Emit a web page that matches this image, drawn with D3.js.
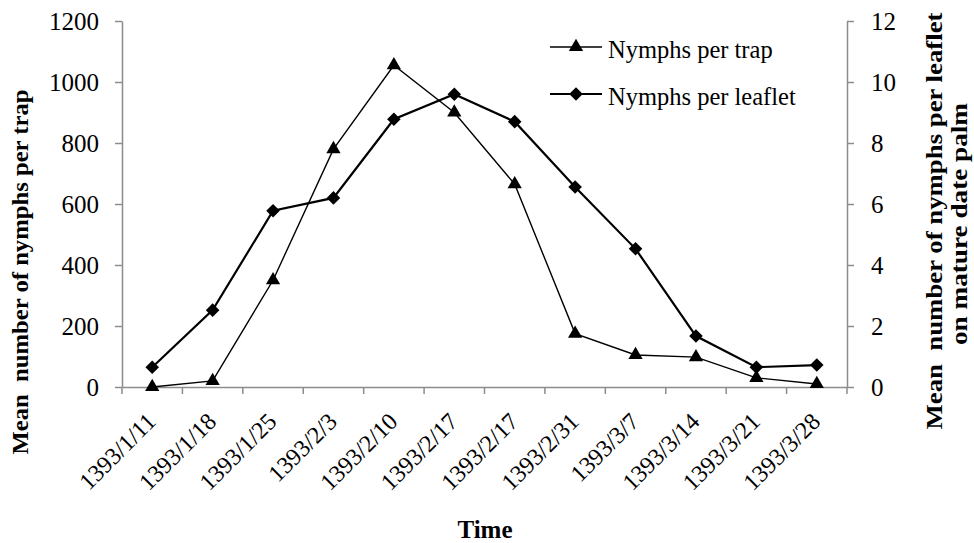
<!DOCTYPE html>
<html>
<head>
<meta charset="utf-8">
<script src="https://cdn.jsdelivr.net/npm/d3@7"></script>
<style>
body { margin: 0; background: #fff; }
text { font-family: "Liberation Serif", "Times New Roman", serif; white-space: pre; }
</style>
</head>
<body>
<script>
var width = 974
var height = 543
var plotLeft = 122, plotRight = 847, plotTop = 21, plotBottom = 387

var dates = ["1393/1/11", "1393/1/18", "1393/1/25", "1393/2/3", "1393/2/10", "1393/2/17",
    "1393/2/17", "1393/2/31", "1393/3/7", "1393/3/14", "1393/3/21", "1393/3/28"]
var trap = [0, 20, 350, 780, 1055, 900, 665, 175, 105, 98, 30, 10]
var leaflet = [0.65, 2.52, 5.78, 6.2, 8.78, 9.6, 8.7, 6.56, 4.53, 1.67, 0.65, 0.72]
var trapTicks = [0, 200, 400, 600, 800, 1000, 1200]
var leafletTicks = [0, 2, 4, 6, 8, 10, 12]
var seriesNames = ["Nymphs per trap", "Nymphs per leaflet"]

var svg = d3.select("body").append("svg")
    .attr("width", width)
    .attr("height", height)

var x = d3.scaleBand()
    .domain(d3.range(dates.length))
    .range([plotLeft, plotRight])
    .padding(0)

var y1 = d3.scaleLinear().domain([0, 1200]).range([plotBottom, plotTop])
var y2 = d3.scaleLinear().domain([0, 12]).range([plotBottom, plotTop])

function cx(i) { return x(i) + x.bandwidth() / 2 }

// axes
var axisColor = "#8c8c8c"

var gx = svg.append("g")
    .attr("transform", "translate(0," + plotBottom + ")")
    .call(d3.axisBottom(x).tickValues([]).tickSizeOuter(0))
gx.selectAll("path").attr("stroke", axisColor).attr("stroke-width", 1.5)
// ticks sit on the band edges, not the centres
gx.selectAll(".edge")
    .data(d3.range(dates.length + 1))
    .enter().append("line")
    .attr("x1", function(d) { return plotLeft + d * x.bandwidth() })
    .attr("x2", function(d) { return plotLeft + d * x.bandwidth() })
    .attr("y1", 0).attr("y2", 7)
    .attr("stroke", axisColor).attr("stroke-width", 1.5)

svg.append("g").selectAll("text")
    .data(dates)
    .enter().append("text")
    .attr("transform", function(d, i) { return "translate(" + (cx(i) + 5) + ",423) rotate(-45)" })
    .attr("text-anchor", "end")
    .attr("font-size", "24px")
    .attr("fill", "#000")
    .text(function(d) { return d })

var gl = svg.append("g")
    .attr("transform", "translate(" + plotLeft + ",0)")
    .call(d3.axisLeft(y1).tickValues(trapTicks).tickFormat(d3.format("d")).tickSize(7).tickSizeOuter(0).tickPadding(16))
gl.selectAll("path, line").attr("stroke", axisColor).attr("stroke-width", 1.5)
gl.selectAll("text").attr("font-size", "25px").attr("fill", "#000")

var gr = svg.append("g")
    .attr("transform", "translate(" + plotRight + ",0)")
    .call(d3.axisRight(y2).tickValues(leafletTicks).tickFormat(d3.format("d")).tickSize(7).tickSizeOuter(0).tickPadding(17))
gr.selectAll("path, line").attr("stroke", axisColor).attr("stroke-width", 1.5)
gr.selectAll("text").attr("font-size", "25px").attr("fill", "#000")

// axis titles
svg.append("text")
    .attr("transform", "translate(28,272) rotate(-90)")
    .attr("text-anchor", "middle")
    .attr("font-size", "23px")
    .attr("font-weight", "bold")
    .attr("textLength", 365)
    .attr("lengthAdjust", "spacingAndGlyphs")
    .text("Mean  number of nymphs per trap")

svg.append("text")
    .attr("transform", "translate(942,221) rotate(-90)")
    .attr("text-anchor", "middle")
    .attr("font-size", "23px")
    .attr("font-weight", "bold")
    .attr("textLength", 417)
    .attr("lengthAdjust", "spacingAndGlyphs")
    .text("Mean  number of nymphs per leaflet")

svg.append("text")
    .attr("transform", "translate(967,224) rotate(-90)")
    .attr("text-anchor", "middle")
    .attr("font-size", "23px")
    .attr("font-weight", "bold")
    .attr("textLength", 242)
    .attr("lengthAdjust", "spacingAndGlyphs")
    .text("on mature date palm")

svg.append("text")
    .attr("x", 485).attr("y", 538)
    .attr("text-anchor", "middle")
    .attr("font-size", "25px")
    .attr("font-weight", "bold")
    .text("Time")

// lines
var lineTrap = d3.line().x(function(d, i) { return cx(i) }).y(function(d) { return y1(d) })
var lineLeaf = d3.line().x(function(d, i) { return cx(i) }).y(function(d) { return y2(d) })

svg.append("path").datum(trap)
    .attr("d", lineTrap).attr("fill", "none").attr("stroke", "#000").attr("stroke-width", 1.4)
svg.append("path").datum(leaflet)
    .attr("d", lineLeaf).attr("fill", "none").attr("stroke", "#000").attr("stroke-width", 2.2)

var tri = d3.symbol().type(d3.symbolTriangle).size(88)
var dia = d3.symbol().type(d3.symbolSquare).size(92)

svg.append("g").selectAll("path").data(trap).enter().append("path")
    .attr("d", tri)
    .attr("transform", function(d, i) { return "translate(" + cx(i) + "," + y1(d) + ")" })
    .attr("fill", "#000")

svg.append("g").selectAll("path").data(leaflet).enter().append("path")
    .attr("d", dia)
    .attr("transform", function(d, i) { return "translate(" + cx(i) + "," + y2(d) + ") rotate(45)" })
    .attr("fill", "#000")

// legend
var legend = svg.append("g")
var legY = [47, 94]
legend.selectAll("line").data(seriesNames).enter().append("line")
    .attr("x1", 550).attr("x2", 602)
    .attr("y1", function(d, i) { return legY[i] }).attr("y2", function(d, i) { return legY[i] })
    .attr("stroke", "#000").attr("stroke-width", function(d, i) { return i == 0 ? 1.4 : 2.2 })
legend.append("path").attr("d", tri).attr("transform", "translate(576," + legY[0] + ")")
legend.append("path").attr("d", dia).attr("transform", "translate(576," + legY[1] + ") rotate(45)")
legend.selectAll("text").data(seriesNames).enter().append("text")
    .attr("x", 608)
    .attr("y", function(d, i) { return legY[i] + 11 })
    .attr("font-size", "24.5px")
    .text(function(d) { return d })
</script>
</body>
</html>
